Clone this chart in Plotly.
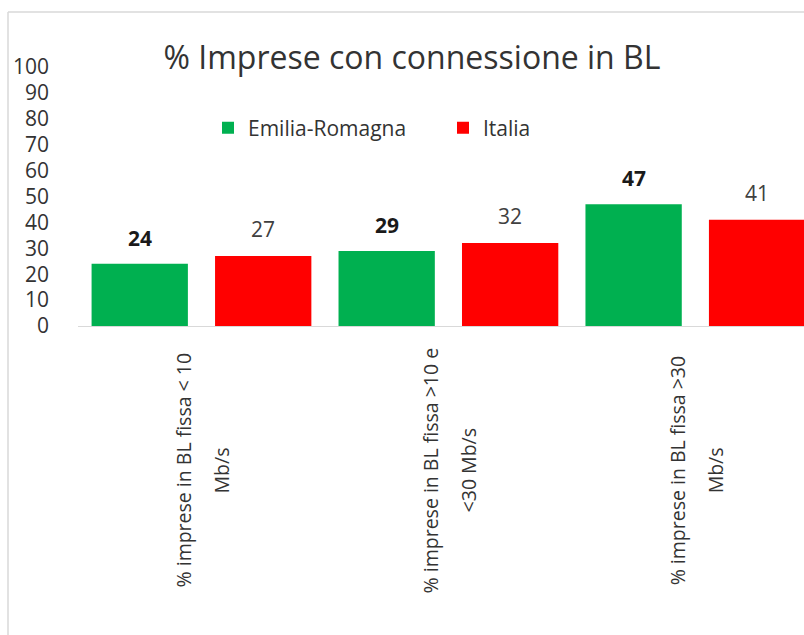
import plotly.graph_objects as go

# % imprese con connessione in banda larga
categories = [
    ["% imprese in BL fissa < 10", "Mb/s"],
    ["% imprese in BL fissa >10 e", "<30 Mb/s"],
    ["% imprese in BL fissa >30", "Mb/s"],
]
emilia = [24, 29, 47]
italia = [27, 32, 41]
series_names = ["Emilia-Romagna", "Italia"]
y_ticks = [0, 10, 20, 30, 40, 50, 60, 70, 80, 90, 100]

GREEN = "#00B050"
RED = "#FF0000"
FONT = "Open Sans"

x_pos = list(range(len(categories)))

fig = go.Figure()
fig.add_trace(go.Bar(x=x_pos, y=emilia, name=series_names[0],
                     marker=dict(color=GREEN, line=dict(width=0))))
fig.add_trace(go.Bar(x=x_pos, y=italia, name=series_names[1],
                     marker=dict(color=RED, line=dict(width=0))))

annotations = []
# value labels above the bars
for i, v in enumerate(emilia):
    annotations.append(dict(x=i - 0.25, y=v, xref="x", yref="y", text=f"<b>{v}</b>",
                            showarrow=False, yshift=26, yanchor="middle",
                            font=dict(family=FONT, size=21, color="#1a1a1a")))
for i, v in enumerate(italia):
    annotations.append(dict(x=i + 0.25, y=v, xref="x", yref="y", text=str(v),
                            showarrow=False, yshift=27, yanchor="middle",
                            font=dict(family=FONT, size=21, color="#404040")))

# category labels, rotated, two lines each
for i, (line1, line2) in enumerate(categories):
    for txt, shift in ((line1, -18), (line2, 20)):
        annotations.append(dict(x=i, y=-0.556, xref="x", yref="paper", text=txt,
                                showarrow=False, textangle=-90, xshift=shift,
                                xanchor="center", yanchor="middle",
                                font=dict(family=FONT, size=19.5, color="#333333")))

fig.update_layout(
    width=804, height=635,
    margin=dict(l=78, r=0, t=67, b=309, autoexpand=False),
    paper_bgcolor="white", plot_bgcolor="white",
    barmode="group", bargap=0, bargroupgap=0.22,
    title=dict(text="% Imprese con connessione in BL", x=0.5124, y=1 - 58 / 635,
               xref="container", yref="container", xanchor="center", yanchor="middle",
               font=dict(family=FONT, size=32, color="#333333")),
    legend=dict(orientation="h", x=208 / 804, y=1 - 128 / 635, xref="container", yref="container",
                xanchor="left", yanchor="middle", entrywidth=190, entrywidthmode="pixels",
                font=dict(family=FONT, size=21, color="#333333")),
    xaxis=dict(range=[-0.5, 2.44], showticklabels=False, showgrid=False, zeroline=False,
               showline=True, linecolor="#d9d9d9", linewidth=1, ticks=""),
    yaxis=dict(range=[0, 100], tickvals=y_ticks, showgrid=False, zeroline=False,
               showline=False, ticklabelstandoff=28,
               tickfont=dict(family=FONT, size=21, color="#333333")),
    annotations=annotations,
    shapes=[
        dict(type="line", xref="paper", yref="paper", x0=(8 - 78) / 726, x1=1.05,
             y0=(326 - 12) / 259, y1=(326 - 12) / 259, line=dict(color="#d9d9d9", width=1.5)),
        dict(type="line", xref="paper", yref="paper", x0=(8 - 78) / 726, x1=(8 - 78) / 726,
             y0=(326 - 12) / 259, y1=-1.3, line=dict(color="#d9d9d9", width=1.5)),
    ],
)

# drop the default body margin so the figure sits at the page corner
fig.write_html("out.html", config={"displayModeBar": False},
               post_script="document.body.style.margin='0';")
